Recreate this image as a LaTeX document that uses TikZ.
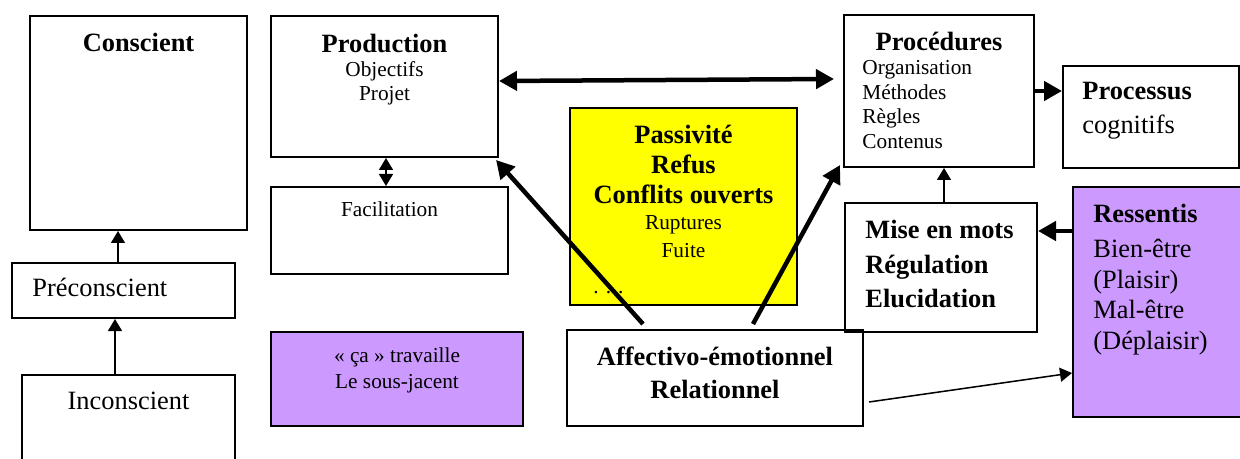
\documentclass[tikz,border=0pt]{standalone}
\usepackage{fontspec}
\setmainfont{Liberation Serif}
\usepackage{xcolor}
\usetikzlibrary{positioning, arrows.meta}

\definecolor{jaune}{HTML}{FFFF00}
\definecolor{mauve}{HTML}{CC99FF}

\tikzset{
  boite/.style={draw, line width=1pt, inner sep=0pt, anchor=north west},
  titre/.style={inner sep=0pt, font=\fontsize{13.2}{16}\selectfont\bfseries},
  texte/.style={inner sep=0pt, font=\fontsize{13.2}{16}\selectfont},
  petit/.style={inner sep=0pt, font=\fontsize{10.65}{12}\selectfont},
  fleche/.style={>={Triangle[length=6pt, width=7pt]}, line width=0.75pt},
  grosse/.style={>={Triangle[length=9pt, width=9.5pt]}, line width=2.25pt},
}
\newcommand{\gros}{\fontsize{13.2}{16}\selectfont}
\newcommand{\menu}{\fontsize{10.65}{12}\selectfont}

\begin{document}
\begin{tikzpicture}[x=0.5pt, y=-0.5pt]

        \clip (0,0) rectangle (1240,459);

        % Boites (colonne de gauche)
        \node [boite, minimum width=108.5pt, minimum height=107pt] (consc) at (29,15) {};
        \node [boite, minimum width=111.5pt, minimum height=27.5pt] (precons) at (11,262) {};
        \node [boite, minimum width=106.5pt, minimum height=55pt] (incons) at (21,374) {};

        % Boites du milieu
        \node [boite, minimum width=113.5pt, minimum height=70.5pt] (prod) at (270,15) {};
        \node [boite, minimum width=118.5pt, minimum height=43.5pt] (facil) at (270,186) {};
        \node [boite, fill=mauve, minimum width=126pt, minimum height=47pt] (ca) at (270,331) {};
        \node [boite, fill=jaune, minimum width=113.5pt, minimum height=98.5pt] (passiv) at (569,107) {};
        \node [boite, minimum width=148pt, minimum height=48pt] (affect) at (566,329) {};

        % Boites de droite
        \node [boite, minimum width=95pt, minimum height=76pt] (proced) at (843,14) {};
        \node [boite, minimum width=88pt, minimum height=51pt] (process) at (1062,65) {};
        \node [boite, minimum width=96pt, minimum height=64.5pt] (mise) at (844,202) {};
        \node [boite, fill=mauve, minimum width=100pt, minimum height=115pt] (ressent) at (1072,186) {};

        % Textes
        \node [titre, below=9pt of consc.north] (tconsc) {Conscient};
        \node [texte, anchor=base west] (tprecons) at ([shift={(21,35)}]precons.north west) {Préconscient};
        \node [texte, anchor=base] (tincons) at ([yshift=-17.5pt]incons.north) {Inconscient};
        \node [petit, align=center, below=9.5pt of prod.north] (tprod)
          {{\gros\bfseries Production}\\Objectifs\\Projet};
        \node [petit, below=7.75pt of facil.north] (tfacil) {Facilitation};
        \node [petit, align=center, below=8.25pt of ca.north, font=\fontsize{10.65}{13}\selectfont] (tca)
          {«~ça~» travaille\\Le sous-jacent};
        \node [titre, align=center, below=8.75pt of passiv.north, font=\fontsize{13.2}{15}\selectfont\bfseries] (tpassiv)
          {Passivité\\Refus\\Conflits ouverts\\[-2pt]{\menu\mdseries Ruptures}\\[-1pt]{\menu\mdseries Fuite}};
        \node [petit, anchor=base west] (tpoints) at ([shift={(24,186)}]passiv.north west) {. . .};
        \node [titre, align=center, below=8.75pt of affect.north, font=\fontsize{13.2}{16.5}\selectfont\bfseries] (taffect)
          {Affectivo-émotionnel\\Relationnel};
        \node [titre, below=8.75pt of proced.north] (tproced) {Procédures};
        \node [petit, align=left, anchor=north west, font=\fontsize{10.65}{12.25}\selectfont] (lproced)
          at ([shift={(19,46.5)}]proced.north west) {Organisation\\Méthodes\\Règles\\Contenus};
        \node [texte, align=left, anchor=north west, font=\fontsize{13.2}{17}\selectfont] (tprocess)
          at ([shift={(20,17)}]process.north west) {\textbf{Processus}\\cognitifs};
        \node [titre, align=left, anchor=north west, font=\fontsize{13.2}{17.25}\selectfont\bfseries] (tmise)
          at ([shift={(21,18)}]mise.north west) {Mise en mots\\Régulation\\Elucidation};
        \node [texte, align=left, anchor=north west, font=\fontsize{13.2}{15.25}\selectfont] (tressent)
          at ([shift={(21,18)}]ressent.north west)
          {\textbf{Ressentis}\\[2.25pt]Bien-être\\(Plaisir)\\Mal-être\\(Déplaisir)};

        % Flèches fines
        \draw [fleche, ->] ([xshift=-2.75pt]precons.north) -- ([xshift=-2.75pt]precons.north |- consc.south);
        \draw [fleche, ->] ([xshift=-6.75pt]incons.north) -- ([xshift=-6.75pt]incons.north |- precons.south);
        \draw [fleche, <->] ([xshift=0.75pt]prod.south) -- ([xshift=0.75pt]prod.south |- facil.north);
        \draw [fleche, ->] ([xshift=1.5pt]mise.north) -- ([xshift=1.5pt]mise.north |- proced.south);
        \draw [fleche, ->] ([shift={(5,-25)}]affect.south east) -- ([yshift=-35.5pt]ressent.west);

        % Flèches épaisses
        \draw [grosse, <->] ([yshift=2.75pt]prod.east) -- ([yshift=6pt, xshift=-4.5pt]proced.west);
        \draw [grosse, ->] ([shift={(77,-5)}]affect.north west) -- ([shift={(-3,2)}]prod.south east);
        \draw [grosse, ->] ([shift={(187,-5)}]affect.north west) -- ([shift={(-3,-3)}]proced.south west);
        \draw [grosse, ->] ([yshift=18.25pt]mise.east -| ressent.west) -- ([yshift=18.25pt]mise.east);
        \draw [grosse, ->] (proced.east) -- (proced.east -| process.west);

\end{tikzpicture}
\end{document}
